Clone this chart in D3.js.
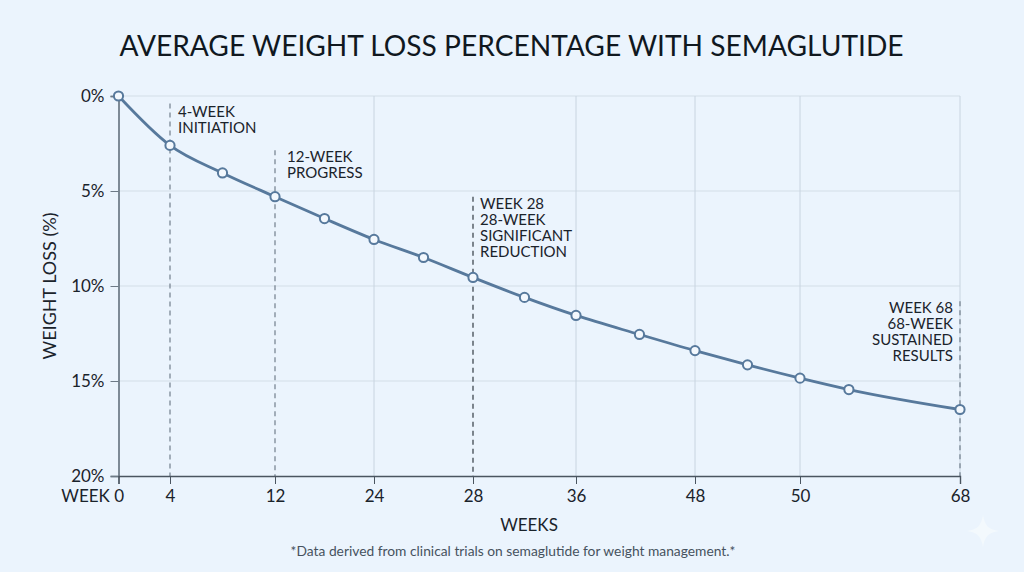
<!DOCTYPE html>
<html><head><meta charset="utf-8">
<script src="https://cdnjs.cloudflare.com/ajax/libs/d3/7.8.5/d3.min.js"></script>
<style>
html,body{margin:0;padding:0;background:#ebf4fd;}
svg{display:block;font-family:Lato,"Noto Sans",sans-serif;}
</style></head><body><svg id="c" width="1024" height="572"></svg>
<script>
const tickWeeks=[0,4,12,24,28,36,48,50,68];
const tickLabels=["WEEK 0","4","12","24","28","36","48","50","68"];
const weeks=[0,4,8,12,18,24,26,28,32,36,42.4,48,49,50,55.5,68];
const loss=[0,2.6,4.05,5.3,6.45,7.55,8.5,9.55,10.6,11.55,12.55,13.4,14.15,14.85,15.45,16.5];
const yTicks=[0,5,10,15,20];
const gridWeeks=[24,36,48,50,68];
const noteWeeks=[4,12,28,68];
const noteTops=[0.4,2.85,5.3,10.8];
const noteLines=[["4-WEEK","INITIATION"],["12-WEEK","PROGRESS"],["WEEK 28","28-WEEK","SIGNIFICANT","REDUCTION"],["WEEK 68","68-WEEK","SUSTAINED","RESULTS"]];
const noteTextTop=[0.4,2.8,5.25,10.75];
const noteDx=[8,12,7,-7];
const noteAnchor=["start","start","start","end"];
const noteColor=["#667482","#667482","#1f2931","#667482"];

const xPos=[118.5,170,275,374,473,576,695,800,960];
const x=d3.scaleLinear().domain(tickWeeks).range(xPos);
const y=d3.scaleLinear().domain([0,20]).range([96,476]);
const svg=d3.select("#c");
const ink="#1a232b";

svg.append("text").attr("x",511.5).attr("y",55.5).attr("text-anchor","middle")
 .attr("font-size",28.15).attr("fill","#10181f").text("AVERAGE WEIGHT LOSS PERCENTAGE WITH SEMAGLUTIDE");

// grid
svg.append("g").selectAll("line").data(yTicks.slice(0,4)).join("line")
 .attr("x1",x(0)).attr("x2",x(68)).attr("y1",d=>y(d)).attr("y2",d=>y(d))
 .attr("stroke","#d3dee8").attr("stroke-width",1.2);
svg.append("g").selectAll("line").data(gridWeeks).join("line")
 .attr("x1",d=>x(d)).attr("x2",d=>x(d)).attr("y1",y(0)).attr("y2",y(20))
 .attr("stroke","#c8d4e0").attr("stroke-width",1);

// dashed markers
svg.append("g").selectAll("line").data(noteWeeks).join("line")
 .attr("x1",d=>x(d)).attr("x2",d=>x(d))
 .attr("y1",(d,i)=>y(noteTops[i])).attr("y2",y(20))
 .attr("stroke",(d,i)=>noteColor[i]).attr("stroke-width",1.1).attr("stroke-dasharray","5 4");

// axes
const yAxis=d3.axisLeft(y).tickValues(yTicks).tickFormat(d=>d+"%").tickSize(8).tickPadding(6);
const gy=svg.append("g").attr("transform",`translate(${x(0)},0)`).call(yAxis);
gy.select(".domain").attr("stroke","#7d8a96").attr("stroke-width",2);
gy.selectAll(".tick line").attr("stroke","#6d7a86").attr("stroke-width",1);
gy.selectAll("text").attr("font-size",17).attr("fill",ink).attr("font-family","Lato");

const xAxis=d3.axisBottom(x).tickValues(tickWeeks).tickFormat((d,i)=>tickLabels[i]).tickSize(8).tickPadding(6);
const gx=svg.append("g").attr("transform",`translate(0,${y(20)})`).call(xAxis);
gx.select(".domain").attr("stroke","#4a5560").attr("stroke-width",1.4);
gx.selectAll(".tick line").attr("stroke","#4a5560").attr("stroke-width",1);
gx.selectAll("text").attr("font-size",17).attr("fill",ink).attr("font-family","Lato");
gx.selectAll("text").filter(d=>d===0).attr("text-anchor","end").attr("dx","5");

// line
const line=d3.line().x((d,i)=>x(weeks[i])).y(d=>y(d)).curve(d3.curveMonotoneX);
svg.append("path").datum(loss).attr("d",line).attr("fill","none").attr("stroke","#57799c").attr("stroke-width",2.8);
svg.append("g").selectAll("circle").data(loss).join("circle")
 .attr("cx",(d,i)=>x(weeks[i])).attr("cy",d=>y(d)).attr("r",4.6)
 .attr("fill","#f3f8fd").attr("stroke","#57799c").attr("stroke-width",2);

// notes
noteWeeks.forEach((w,i)=>{
 const t=svg.append("text").attr("font-size",15).attr("fill",ink).attr("text-anchor",noteAnchor[i]);
 noteLines[i].forEach((s,j)=>{
  t.append("tspan").attr("x",x(w)+noteDx[i]).attr("y",y(noteTextTop[i])+13+j*16).text(s);
 });
});

svg.append("text").attr("transform",`translate(56,${y(10)-0}) rotate(-90)`).attr("text-anchor","middle")
 .attr("font-size",18).attr("fill",ink).text("WEIGHT LOSS (%)");
svg.append("text").attr("x",529).attr("y",531).attr("text-anchor","middle")
 .attr("font-size",17).attr("fill",ink).text("WEEKS");
svg.append("text").attr("x",513).attr("y",556).attr("text-anchor","middle")
 .attr("font-size",13.8).attr("fill","#46525e").text("*Data derived from clinical trials on semaglutide for weight management.*");

// sparkle watermark
svg.append("path").attr("transform","translate(983,531)")
 .attr("d","M0,-16 C2,-5 5,-2 16,0 C5,2 2,5 0,16 C-2,5 -5,2 -16,0 C-5,-2 -2,-5 0,-16Z")
 .attr("fill","#f3f9fd");
</script></body></html>
